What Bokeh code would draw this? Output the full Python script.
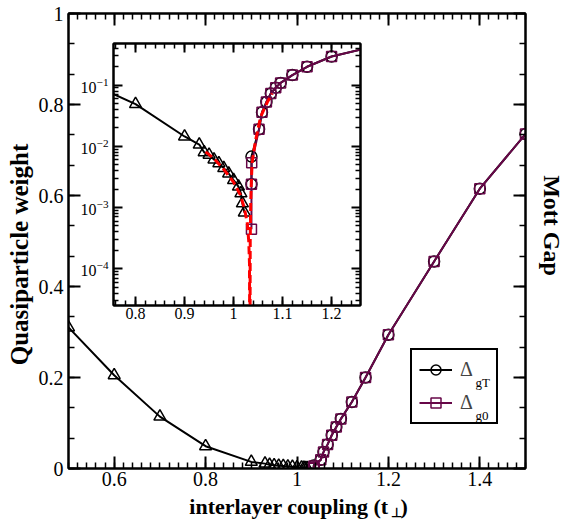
import math
from bokeh.plotting import figure
from bokeh.layouts import column
from bokeh.models import (LinearAxis, LogAxis, FixedTicker, CustomJSTickFormatter, Label,
                          Legend, LegendItem, LogTickFormatter, GridBox, Range1d)
from bokeh.embed import file_html
from bokeh.resources import INLINE

# ---------------- data ----------------
# quasiparticle weight Z (triangles)
z_t = [0.5, 0.6, 0.7, 0.8, 0.9, 0.93, 0.94, 0.95, 0.96, 0.97, 0.98, 0.99, 1.0, 1.01, 1.015, 1.018, 1.022]
z_v = [0.31, 0.205, 0.114, 0.049, 0.0145, 0.0107, 0.0080, 0.0073, 0.0061, 0.0053, 0.0044, 0.0036,
       0.0028, 0.0022, 0.0017, 0.00117, 0.00083]
# Mott gap Delta_gT (black circles)
gT_t = [1.0365, 1.0365, 1.052, 1.058, 1.067, 1.076, 1.086, 1.096, 1.12, 1.15, 1.2, 1.3, 1.4, 1.5]
gT_v = [0.0024, 0.0068, 0.019, 0.036, 0.053, 0.073, 0.091, 0.109, 0.146, 0.2, 0.294, 0.455, 0.615, 0.735]
# Mott gap Delta_g0 (maroon squares)
g0_t = [1.0365, 1.0365, 1.037, 1.052, 1.058, 1.067, 1.076, 1.086, 1.096, 1.12, 1.15, 1.2, 1.3, 1.4, 1.5]
g0_v = [0.00044, 0.0024, 0.0054, 0.019, 0.036, 0.053, 0.073, 0.091, 0.109, 0.146, 0.2, 0.294, 0.455,
        0.615, 0.735]
# red dashed fits in the inset
zfit_t = [0.943, 0.96, 0.98, 1.0, 1.014, 1.022, 1.028, 1.031, 1.0325, 1.0333]
zfit_v = [0.0081, 0.0063, 0.0042, 0.0026, 0.0016, 0.00098, 0.00055, 0.00028, 0.00012, 1e-6]
gfit_t = [1.0333, 1.034, 1.035, 1.0365, 1.038, 1.041, 1.045, 1.055, 1.069, 1.079]
gfit_v = [1e-6, 0.0003, 0.0012, 0.003, 0.0055, 0.008, 0.0126, 0.030, 0.053, 0.073]

# ticks
x_major = [0.6, 0.8, 1.0, 1.2, 1.4]
x_minor = [round(0.5 + 0.02 * i, 2) for i in range(51)]
y_major = [0.0, 0.2, 0.4, 0.6, 0.8, 1.0]
y_minor = [i / 15 for i in range(16)]
ix_major = [0.8, 0.9, 1.0, 1.1, 1.2]
ix_minor = [round(0.74 + 0.02 * i, 2) for i in range(28)]
iy_major = [1e-4, 1e-3, 1e-2, 1e-1]
iy_minor = [k * 10.0 ** n for n in range(-5, 0) for k in range(2, 10)]

MAROON = "#670748"
SERIF = "Liberation Serif"
W, H = 564, 521

num_fmt = CustomJSTickFormatter(code="return (Math.round(tick*100)/100).toString();")
blank_fmt = CustomJSTickFormatter(code="return '';")


def style_axis(ax, major_in, minor_in, size, show=True, standoff=5):
    ax.axis_line_width = 2
    ax.major_tick_line_width = 2
    ax.minor_tick_line_width = 1.5
    ax.major_tick_in = major_in
    ax.major_tick_out = 0
    ax.minor_tick_in = minor_in
    ax.minor_tick_out = 0
    ax.major_label_text_font = SERIF
    ax.major_label_text_color = "black"
    if show:
        ax.major_label_text_font_size = size
        ax.major_label_standoff = standoff
    else:
        ax.major_label_text_font_size = "1px"
        ax.major_label_standoff = 0


# ---------------- main figure ----------------
p = figure(width=W, height=H, x_range=Range1d(0.5, 1.5), y_range=Range1d(0, 1),
           output_backend="svg", toolbar_location=None,
           min_border_left=68, min_border_right=W - 525, min_border_top=13, min_border_bottom=H - 468,
           x_axis_location=None, y_axis_location=None)
p.xgrid.visible = False
p.ygrid.visible = False
p.outline_line_color = "black"
p.outline_line_width = 2

xt = FixedTicker(ticks=x_major, minor_ticks=x_minor)
yt = FixedTicker(ticks=y_major, minor_ticks=y_minor)
for loc, show in (("below", True), ("above", False)):
    ax = LinearAxis(ticker=xt, formatter=num_fmt if show else blank_fmt)
    style_axis(ax, 12, 6, "20px", show, standoff=3)
    p.add_layout(ax, loc)
for loc, show in (("left", True), ("right", False)):
    ax = LinearAxis(ticker=yt, formatter=num_fmt if show else blank_fmt)
    style_axis(ax, 12, 6, "20px", show, standoff=5)
    p.add_layout(ax, loc)

p.line(z_t, z_v, line_color="black", line_width=2)
p.scatter(z_t, z_v, marker="triangle", size=12, fill_alpha=0, line_color="black", line_width=1.5)
rT_l = p.line(gT_t, gT_v, line_color="black", line_width=2)
rT_s = p.scatter(gT_t, gT_v, marker="circle", size=11, fill_alpha=0, line_color="black", line_width=1.5)
r0_l = p.line(g0_t, g0_v, line_color=MAROON, line_width=2)
r0_s = p.scatter(g0_t, g0_v, marker="square", size=10, fill_alpha=0, line_color=MAROON, line_width=1.5)

legend = Legend(items=[LegendItem(label="Δ", renderers=[rT_l, rT_s]),
                       LegendItem(label="Δ", renderers=[r0_l, r0_s])],
                location=(342, 44), padding=7, spacing=8, margin=0,
                glyph_width=33, glyph_height=25, label_height=25, label_width=29, label_standoff=8,
                label_text_font=SERIF, label_text_font_size="20px",
                border_line_color="black", border_line_width=2, border_line_alpha=1.0,
                background_fill_color="white", background_fill_alpha=1.0)
p.add_layout(legend)

# ---------------- inset (same canvas size, frame placed by borders) ----------------
ins = figure(width=W, height=H, x_range=Range1d(0.755, 1.259), y_range=Range1d(2.5e-5, 0.48),
             y_axis_type="log", output_backend="svg", toolbar_location=None,
             min_border_left=113, min_border_right=W - 360, min_border_top=43, min_border_bottom=H - 305,
             x_axis_location=None, y_axis_location=None)
ins.xgrid.visible = False
ins.ygrid.visible = False
ins.outline_line_color = "black"
ins.outline_line_width = 2
ins.border_fill_alpha = 0
ins.background_fill_color = "white"

ixt = FixedTicker(ticks=ix_major, minor_ticks=ix_minor)
iyt = FixedTicker(ticks=iy_major, minor_ticks=iy_minor)
for loc, show in (("below", True), ("above", False)):
    ax = LinearAxis(ticker=ixt, formatter=num_fmt if show else blank_fmt)
    style_axis(ax, 9, 5, "16px", show, standoff=2)
    ins.add_layout(ax, loc)
for loc, show in (("left", True), ("right", False)):
    ax = LogAxis(ticker=iyt, formatter=LogTickFormatter() if show else blank_fmt)
    style_axis(ax, 9, 5, "16px", show, standoff=5)
    ins.add_layout(ax, loc)

ins.line(z_t, z_v, line_color="black", line_width=2)
ins.scatter(z_t, z_v, marker="triangle", size=12, fill_alpha=0, line_color="black", line_width=1.5)
ins.line(gT_t, gT_v, line_color="black", line_width=2)
ins.scatter(gT_t, gT_v, marker="circle", size=11, fill_alpha=0, line_color="black", line_width=1.5)
ins.line(g0_t, g0_v, line_color=MAROON, line_width=2)
ins.scatter(g0_t, g0_v, marker="square", size=10, fill_alpha=0, line_color=MAROON, line_width=1.5)
ins.line(zfit_t, zfit_v, line_color="red", line_width=3, line_dash="8 4")
ins.line(gfit_t, gfit_v, line_color="red", line_width=3, line_dash="8 4")

# ---------------- transparent overlay for the titles ----------------
ov = figure(width=W, height=H, x_range=Range1d(0, W), y_range=Range1d(0, H),
            output_backend="svg", toolbar_location=None, min_border=0,
            x_axis_location=None, y_axis_location=None)
ov.xgrid.visible = False
ov.ygrid.visible = False
ov.outline_line_color = None
ov.background_fill_alpha = 0
ov.border_fill_alpha = 0


def txt(x, y, text, size, bold=True, angle=0.0, align="left", baseline="alphabetic"):
    ov.add_layout(Label(x=x, y=y, x_units="screen", y_units="screen", text=text, angle=angle,
                        text_align=align, text_baseline=baseline, text_font=SERIF,
                        text_font_style="bold" if bold else "normal", text_font_size=size,
                        text_color="black"))


# positions in canvas pixels (x from left, y from bottom)
txt(19, 267, "Quasiparticle weight", "25px", angle=math.pi / 2, align="center", baseline="middle")
txt(551, 296, "Mott Gap", "24px", angle=-math.pi / 2, align="center", baseline="middle")
txt(388, 15, "interlayer coupling (t", "22px", align="right")
txt(390, 9, "⊥", "13px", align="left")
txt(400, 15, ")", "22px", align="left")
txt(475, 139, "gT", "13px", bold=False)
txt(475, 106, "g0", "13px", bold=False)

layout = GridBox(children=[(column(p), 0, 0), (column(ins), 0, 0), (column(ov), 0, 0)])

open("out.html", "w").write(file_html(layout, INLINE))
